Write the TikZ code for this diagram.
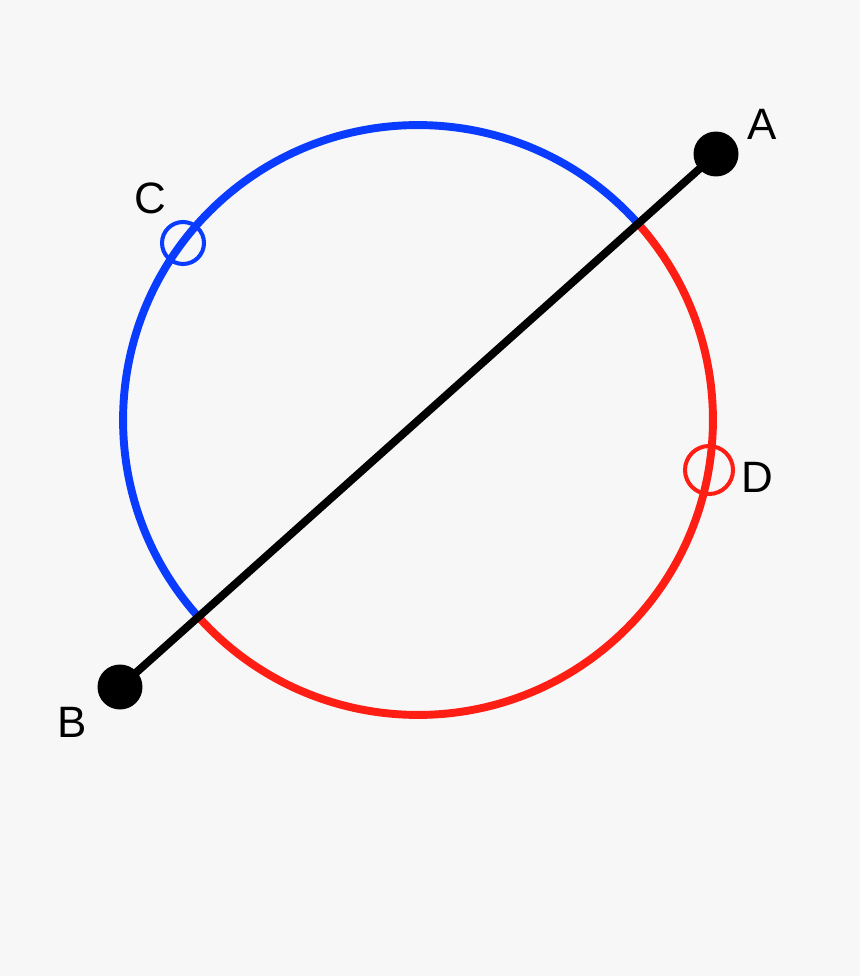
\documentclass[tikz,border=0pt]{standalone}
\usepackage{fontspec}
\setmainfont{Liberation Sans}
\usepackage{tikz}
\definecolor{bg}{HTML}{F7F7F7}
\definecolor{arcblue}{HTML}{0A3CFF}
\definecolor{arcred}{HTML}{FF1E14}
\tikzset{
  dot/.style={circle,fill=black,inner sep=0pt,minimum size=0.9cm},
  ring/.style={circle,draw,line width=2.3pt,inner sep=0pt,minimum size=#1},
  lbl/.style={font=\fontsize{25}{25}\selectfont}
}

\begin{document}
\begin{tikzpicture}[x=0.02cm,y=-0.02cm]
\fill[bg] (0,0) rectangle (860,976);
\useasboundingbox (0,0) rectangle (860,976);
\coordinate (O) at (418,420);
% the two halves of the circle
\draw[arcblue,line width=4.5pt] ([shift={(41.8:5.9cm)}]O) arc[start angle=41.8,end angle=221.8,radius=5.9cm];
\draw[arcred,line width=4.5pt] ([shift={(221.8:5.9cm)}]O) arc[start angle=221.8,end angle=401.8,radius=5.9cm];
% the diameter
\node[dot] (A) at (716,154) {};
\node[dot] (B) at (120,687) {};
\draw[line width=4.5pt] (A.center) -- (B.center);
\node[ring=0.84cm,draw=arcblue] (C) at (183,243) {};
\node[ring=0.96cm,draw=arcred] (D) at (709,470) {};
\node[lbl] (la) at (762,124) {A};
\node[lbl] (lb) at (72,722) {B};
\node[lbl] (lc) at (150,198) {C};
\node[lbl] (ld) at (757,477) {D};
\end{tikzpicture}
\end{document}
